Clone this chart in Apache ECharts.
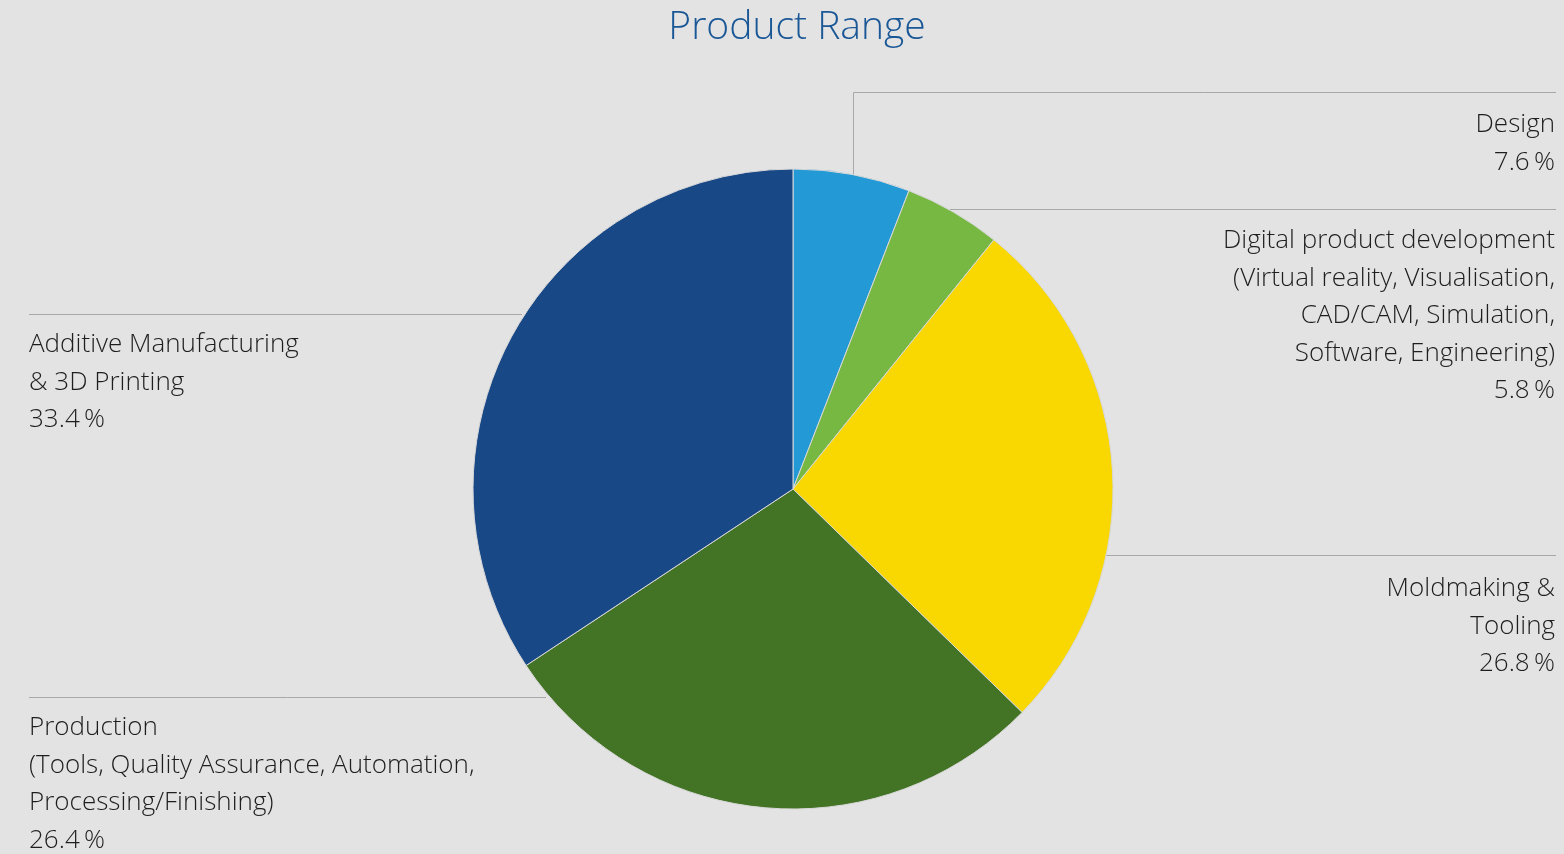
<!DOCTYPE html>
<html>
<head>
<meta charset="utf-8">
<title>Product Range</title>
<script src="https://cdn.jsdelivr.net/npm/echarts@6/dist/echarts.min.js"></script>
<style>
    html, body { margin: 0; padding: 0; background: #e3e3e3; }
    #chart { width: 1564px; height: 854px; }
</style>
</head>
<body>
<div id="chart"></div>
<script>
// slice shares as drawn in the picture (clockwise from 12 o'clock)
const categories = [
    "Design",
    "Digital product development\n(Virtual reality, Visualisation,\nCAD/CAM, Simulation,\nSoftware, Engineering)",
    "Moldmaking &\nTooling",
    "Production\n(Tools, Quality Assurance, Automation,\nProcessing/Finishing)",
    "Additive Manufacturing\n& 3D Printing",
];
const sliceShares = [5.9, 4.9, 26.5, 28.4, 34.3];
// percentages printed in the labels
const labelPercents = ["7.6", "5.8", "26.8", "26.4", "33.4"];
const colors = ["#2399d6", "#77b843", "#f9d700", "#437324", "#194887"];

// where each label and its leader line go
const labelPlacement = [
    { x: 1555, y: 106, align: "right", line: [[853.5, 174], [853.5, 92.5], [1556, 92.5]] },
    { x: 1555, y: 222, align: "right", line: [[950, 209.5], [1556, 209.5]] },
    { x: 1555, y: 570, align: "right", line: [[1106, 555.5], [1556, 555.5]] },
    { x: 29, y: 709, align: "left", line: [[546, 697.5], [29, 697.5]] },
    { x: 29, y: 326, align: "left", line: [[522, 314.5], [29, 314.5]] },
];

const chart = echarts.init(document.getElementById("chart"), null, { renderer: "canvas" });

chart.setOption({
    backgroundColor: "#e3e3e3",
    animation: false,
    title: {
        text: "Product Range",
        left: 792,
        top: 3,
        textAlign: "center",
        textStyle: {
            color: "#1a5796",
            fontFamily: "Open Sans",
            fontWeight: 300,
            fontSize: 39,
        },
    },
    series: [
        {
            type: "pie",
            center: [793, 489],
            radius: 320,
            startAngle: 90,
            clockwise: true,
            avoidLabelOverlap: false,
            itemStyle: {
                borderColor: "#d8d8d8",
                borderWidth: 1,
            },
            label: {
                show: true,
                color: "#1e1e1e",
                fontFamily: "Open Sans",
                fontWeight: 300,
                fontSize: 26,
                lineHeight: 37.5,
                formatter: (p) => p.name + "\n" + labelPercents[p.dataIndex] + "\u2009%",
            },
            labelLine: {
                show: true,
                lineStyle: { color: "#a8a8a8", width: 1 },
            },
            labelLayout: (params) => {
                const place = labelPlacement[params.dataIndex];
                return {
                    x: place.x,
                    y: place.y,
                    align: place.align,
                    verticalAlign: "top",
                    labelLinePoints: place.line,
                };
            },
            emphasis: { disabled: true },
            data: categories.map((name, i) => ({
                name: name,
                value: sliceShares[i],
                itemStyle: { color: colors[i] },
                label: { align: labelPlacement[i].align },
            })),
        },
    ],
});
</script>
</body>
</html>
